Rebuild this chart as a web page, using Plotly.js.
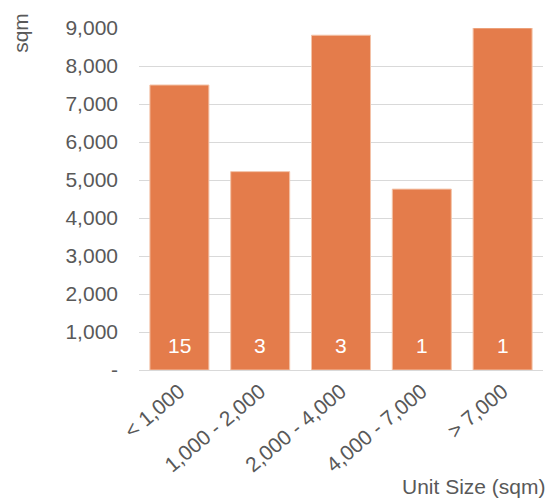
<!DOCTYPE html>
<html>
<head>
<meta charset="utf-8">
<script src="https://cdn.plot.ly/plotly-3.0.1.min.js"></script>
<style>html,body{margin:0;padding:0;background:#fff}#chart{width:556px;height:500px}</style>
</head>
<body>
<div id="chart"></div>
<script>
const categories = ['< 1,000', '1,000 - 2,000', '2,000 - 4,000', '4,000 - 7,000', '> 7,000'];
const areaSqm = [7500, 5220, 8810, 4760, 9000];
const unitCounts = [15, 3, 3, 1, 1];
const yTickVals = [0, 1000, 2000, 3000, 4000, 5000, 6000, 7000, 8000, 9000];
const yTickText = ['-', '1,000', '2,000', '3,000', '4,000', '5,000', '6,000', '7,000', '8,000', '9,000'];

const font = {family: 'Liberation Sans, Arial, sans-serif', size: 21, color: '#595959'};

const trace = {
  type: 'bar',
  x: categories,
  y: areaSqm,
  marker: {color: '#E47C4B', line: {color: '#F3C3A8', width: 1}},
  hoverinfo: 'skip'
};

const countAnnotations = categories.map((c, i) => ({
  x: c, y: 0, xref: 'x', yref: 'y',
  text: String(unitCounts[i]),
  showarrow: false, yanchor: 'bottom', yshift: 11,
  font: {family: font.family, size: 21, color: '#ffffff'}
}));

const layout = {
  width: 556, height: 500,
  margin: {l: 139, r: 13, t: 28, b: 130},
  paper_bgcolor: '#fff', plot_bgcolor: '#fff',
  font: font,
  showlegend: false,
  bargap: 0.27,
  xaxis: {
    type: 'category',
    tickangle: -40,
    tickfont: font,
    showline: true, linecolor: '#d9d9d9', linewidth: 1,
    ticks: '', showgrid: false
  },
  yaxis: {
    range: [0, 9000],
    tickvals: yTickVals, ticktext: yTickText,
    tickfont: font,
    showgrid: true, gridcolor: '#d9d9d9', gridwidth: 1,
    zeroline: false, showline: false, ticks: '',
    ticklabelstandoff: 20
  },
  annotations: countAnnotations.concat([
    {xref: 'paper', yref: 'paper', x: 1.013, y: -0.34, xanchor: 'right', yanchor: 'middle',
     text: 'Unit Size (sqm)', showarrow: false, font: font},
    {xref: 'paper', yref: 'paper', x: -0.295, y: 1.0, xanchor: 'center', yanchor: 'middle', yshift: -5,
     text: 'sqm', textangle: -90, showarrow: false, font: font}
  ])
};

Plotly.newPlot('chart', [trace], layout, {displayModeBar: false, staticPlot: true});
</script>
</body>
</html>
